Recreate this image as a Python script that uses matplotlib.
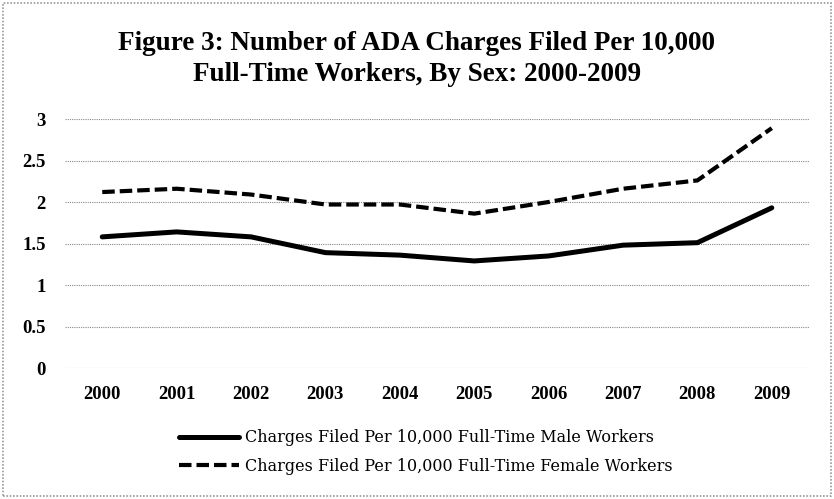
import matplotlib
matplotlib.use('Agg')
import matplotlib.pyplot as plt
from matplotlib.patches import Rectangle

# values
years = ['2000', '2001', '2002', '2003', '2004', '2005', '2006', '2007', '2008', '2009']
male = [1.58, 1.64, 1.58, 1.39, 1.36, 1.29, 1.35, 1.48, 1.51, 1.93]
female = [2.12, 2.16, 2.09, 1.97, 1.97, 1.86, 2.00, 2.16, 2.26, 2.89]
yticks = [0, 0.5, 1, 1.5, 2, 2.5, 3]
ytick_labels = ['0', '0.5', '1', '1.5', '2', '2.5', '3']

plt.rcParams['font.family'] = ['Liberation Serif', 'DejaVu Serif']

fig = plt.figure(figsize=(8.34, 4.99), dpi=100)
ax = fig.add_axes([0.078, 0.2625, 0.892, 0.499])

x = list(range(len(years)))
l1, = ax.plot(x, male, color='black', lw=3.6, solid_capstyle='round',
              solid_joinstyle='round',
              label='Charges Filed Per 10,000 Full-Time Male Workers')
l2, = ax.plot(x, female, color='black', lw=3.0, dashes=(3.0, 1.2),
              dash_capstyle='butt',
              label='Charges Filed Per 10,000 Full-Time Female Workers')

ax.set_xlim(-0.5, len(years) - 0.5)
ax.set_ylim(0, 3)
ax.set_xticks(x)
ax.set_xticklabels(years, fontsize=13.5, fontweight='bold')
ax.set_yticks(yticks)
ax.set_yticklabels(ytick_labels, fontsize=13.5, fontweight='bold')
ax.tick_params(axis='x', length=0, pad=13)
ax.tick_params(axis='y', length=0, pad=14)
for s in ax.spines.values():
    s.set_visible(False)
ax.yaxis.grid(True, color='#888888', linestyle=(0, (1, 1)), lw=0.8)
ax.set_axisbelow(True)

fig.text(0.5, 0.882, 'Figure 3: Number of ADA Charges Filed Per 10,000\nFull-Time Workers, By Sex: 2000-2009',
         ha='center', va='center', fontsize=19.5, fontweight='bold', linespacing=1.3)

fig.legend(handles=[l1, l2], loc='center', bbox_to_anchor=(0.511, 0.094), frameon=False,
           prop={'family': 'DejaVu Serif', 'size': 11.5},
           handlelength=3.75, handletextpad=0.375, labelspacing=0.75)

fig.add_artist(Rectangle((0.004, 0.006), 0.992, 0.988, transform=fig.transFigure,
                         fill=False, edgecolor='#999999', lw=1.2, linestyle=(0, (1, 1))))

fig.savefig('out.png', dpi=100)
